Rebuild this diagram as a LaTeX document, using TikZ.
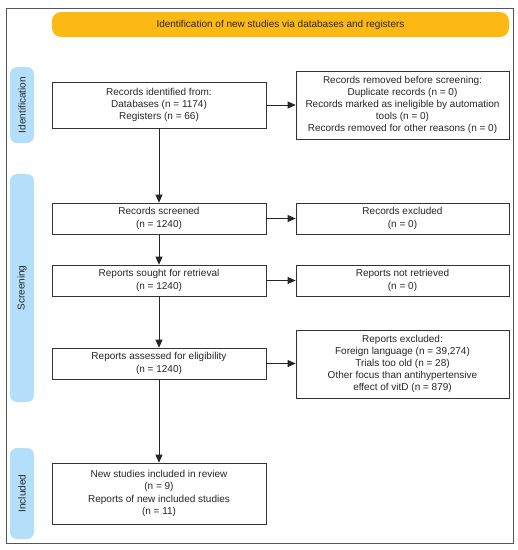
\documentclass[tikz,border=0pt]{standalone}
\usepackage{fontspec}
\setmainfont{Liberation Sans}
\usetikzlibrary{arrows.meta}
\definecolor{banner}{HTML}{FDB913}
\definecolor{phase}{HTML}{B3DFFA}
\definecolor{frame}{HTML}{555555}
\begin{document}
\begin{tikzpicture}[x=1pt,y=-1pt,
  txt/.style={font=\fontsize{10}{12.2}\selectfont,text=black!85},
  box/.style={txt,draw=black!80,line width=0.7pt,fill=white,align=center,inner sep=0pt},
  phasebox/.style={fill=phase,rounded corners=7pt},
  arr/.style={draw=black!85,line width=0.8pt,-{Triangle[length=8pt,width=7pt]}}]
\useasboundingbox (0,0) rectangle (518,550);
\draw[frame,line width=1pt] (6,8) rectangle (513,543);
% banner
\fill[banner,rounded corners=9pt] (52,12) rectangle (509,37);
\node[txt] (ban) at (280.5,24.5) {Identification of new studies via databases and registers};
% phases
\fill[phasebox] (10,67) rectangle (34,143);
\node[txt,rotate=90] (pid) at (22,105) {Identification};
\fill[phasebox] (10,174) rectangle (34,402);
\node[txt,rotate=90] (psc) at (22,288) {Screening};
\fill[phasebox] (10,448) rectangle (34,539);
\node[txt,rotate=90] (pin) at (22,493.5) {Included};
% boxes
\node[box,minimum width=214pt,minimum height=46pt] (ident) at (159,105) {Records identified from:\\Databases (n = 1174)\\Registers (n = 66)};
\node[box,minimum width=213pt,minimum height=68pt] (removed) at (402.5,105) {Records removed before screening:\\Duplicate records (n = 0)\\Records marked as ineligible by automation\\tools (n = 0)\\Records removed for other reasons (n = 0)};
\node[box,minimum width=214pt,minimum height=31pt] (screen) at (159,218.5) {Records screened\\(n = 1240)};
\node[box,minimum width=213pt,minimum height=31pt] (excl) at (402.5,218.5) {Records excluded\\(n = 0)};
\node[box,minimum width=214pt,minimum height=31pt] (sought) at (159,280.5) {Reports sought for retrieval\\(n = 1240)};
\node[box,minimum width=213pt,minimum height=31pt] (notret) at (402.5,280.5) {Reports not retrieved\\(n = 0)};
\node[box,minimum width=214pt,minimum height=31pt] (assess) at (159,363.5) {Reports assessed for eligibility\\(n = 1240)};
\node[box,minimum width=213pt,minimum height=68pt] (repexcl) at (402.5,364) {Reports excluded:\\Foreign language (n = 39,274)\\Trials too old (n = 28)\\Other focus than antihypertensive\\effect of vitD (n = 879)};
\node[box,minimum width=214pt,minimum height=61pt] (incl) at (159,493.5) {New studies included in review\\(n = 9)\\Reports of new included studies\\(n = 11)};
% arrows
\draw[arr] (ident) -- (removed);
\draw[arr] (ident) -- (screen);
\draw[arr] (screen) -- (excl);
\draw[arr] (screen) -- (sought);
\draw[arr] (sought) -- (notret);
\draw[arr] (sought) -- (assess);
\draw[arr] (assess.east) -- (assess.east -| repexcl.west);
\draw[arr] (assess) -- (incl);
\end{tikzpicture}
\end{document}
